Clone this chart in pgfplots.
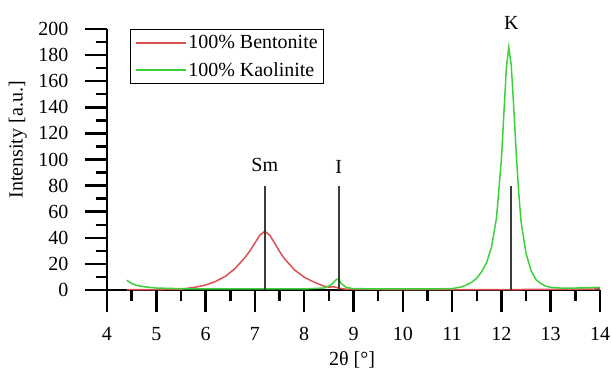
\documentclass[border=0pt]{standalone}
\usepackage{pgfplots}
\pgfplotsset{compat=1.18}
\usepackage{fontspec}
\setmainfont{Liberation Serif}
\definecolor{bred}{RGB}{222,80,80}
\definecolor{kgreen}{RGB}{60,210,60}
\definecolor{vline}{RGB}{60,60,60}
\newcommand{\fs}{\fontsize{20}{23}\selectfont}
\begin{document}
\begin{tikzpicture}
\useasboundingbox (-107pt,-79pt) rectangle (505pt,290pt);
\begin{axis}[
  at={(0pt,0pt)}, anchor=south west,
  scale only axis, width=493pt, height=261pt,
  xmin=4, xmax=14, ymin=0, ymax=200,
  axis lines=left,
  axis line style={-, line width=2.5pt, black},
  xtick={4,5,...,14}, ytick={0,20,...,200},
  minor x tick num=1, minor y tick num=1,
  tick align=outside,
  major tick length=22pt, minor tick length=11pt,
  tick style={black, line width=2.5pt},
  /pgf/number format/assume math mode=true,
  tick label style={font=\fs},
  xticklabel style={yshift=-12pt},
  yticklabel style={xshift=-13pt},
  clip=false,
  unbounded coords=jump,
  xlabel={2θ [°]},
  ylabel={Intensity [a.u.]},
  xlabel style={font=\fs, at={(axis description cs:0.497,-0.266)}, anchor=center},
  ylabel style={font=\fs, at={(axis description cs:-0.181,0.575)}, anchor=center},
  legend style={font=\fs, at={(axis description cs:0.047,1.0)}, anchor=north west,
    draw=black, line width=1.2pt, inner sep=4pt, row sep=8pt,
    legend cell align=left},
  legend image code/.code={\draw[#1, line width=1.5pt] (0pt,0pt) -- (50pt,0pt);},
]
\addplot[bred, line width=1.5pt] coordinates {
(4.4,0.3) (5.0,0.3) (5.5,0.6) (5.8,2.2) (6.0,3.8) (6.2,6.5) (6.4,10.5) (6.6,16.5)
(6.8,25) (6.9,30) (7.0,36) (7.1,42) (7.2,45) (7.3,42) (7.4,36) (7.5,29.5) (7.6,24)
(7.8,15.5) (8.0,9.8) (8.2,6) (8.4,3) (8.5,2.2) (8.6,2.5) (8.7,1.5) (8.8,0.8) (9.0,0.5)
(10,0.3) (11,0.3) (12,0.3) (13,0.5) (14,0.8)};
\addlegendentry{100\% Bentonite}
\addplot[kgreen, line width=1.5pt] coordinates {
(4.4,7.5) (4.5,5) (4.6,3.5) (4.75,2.5) (5.0,1.5) (5.5,1) (6,0.8) (7,0.8) (8,0.8)
(8.4,1.5) (8.55,4) (8.65,8) (8.7,8.5) (8.75,5) (8.85,2) (9.0,1) (10,0.8) (11,1)
(11.2,2.5) (11.3,4) (11.4,6) (11.5,9) (11.6,14) (11.7,21) (11.8,33) (11.9,55)
(12.0,100) (12.05,135) (12.1,170) (12.15,186) (12.2,172) (12.25,140) (12.3,105)
(12.35,75) (12.4,52) (12.5,28) (12.6,15) (12.7,8) (12.8,5) (12.9,3) (13.0,2)
(13.2,1.5) (13.5,1.5) (14,2)};
\addlegendentry{100\% Kaolinite}
\addplot[vline, line width=2pt, forget plot] coordinates {(7.2,0) (7.2,80)};
\addplot[vline, line width=2pt, forget plot] coordinates {(8.7,0) (8.7,80)};
\addplot[vline, line width=2pt, forget plot] coordinates {(12.2,0) (12.2,80)};
% tick marks (same geometry as the axis ticks)
\addplot[black, line width=2.5pt, forget plot] coordinates {
(4,0) (4,-16.86) (nan,nan) (5,0) (5,-16.86) (nan,nan) (6,0) (6,-16.86) (nan,nan)
(7,0) (7,-16.86) (nan,nan) (8,0) (8,-16.86) (nan,nan) (9,0) (9,-16.86) (nan,nan)
(10,0) (10,-16.86) (nan,nan) (11,0) (11,-16.86) (nan,nan) (12,0) (12,-16.86) (nan,nan)
(13,0) (13,-16.86) (nan,nan) (14,0) (14,-16.86)};
\addplot[black, line width=2.5pt, forget plot] coordinates {
(4.5,0) (4.5,-8.43) (nan,nan) (5.5,0) (5.5,-8.43) (nan,nan) (6.5,0) (6.5,-8.43) (nan,nan)
(7.5,0) (7.5,-8.43) (nan,nan) (8.5,0) (8.5,-8.43) (nan,nan) (9.5,0) (9.5,-8.43) (nan,nan)
(10.5,0) (10.5,-8.43) (nan,nan) (11.5,0) (11.5,-8.43) (nan,nan) (12.5,0) (12.5,-8.43) (nan,nan)
(13.5,0) (13.5,-8.43)};
\addplot[black, line width=2.5pt, forget plot] coordinates {
(4,0) (3.5538,0) (nan,nan) (4,20) (3.5538,20) (nan,nan) (4,40) (3.5538,40) (nan,nan)
(4,60) (3.5538,60) (nan,nan) (4,80) (3.5538,80) (nan,nan) (4,100) (3.5538,100) (nan,nan)
(4,120) (3.5538,120) (nan,nan) (4,140) (3.5538,140) (nan,nan) (4,160) (3.5538,160) (nan,nan)
(4,180) (3.5538,180) (nan,nan) (4,200) (3.5538,200)};
\addplot[black, line width=2.5pt, forget plot] coordinates {
(4,10) (3.7769,10) (nan,nan) (4,30) (3.7769,30) (nan,nan) (4,50) (3.7769,50) (nan,nan)
(4,70) (3.7769,70) (nan,nan) (4,90) (3.7769,90) (nan,nan) (4,110) (3.7769,110) (nan,nan)
(4,130) (3.7769,130) (nan,nan) (4,150) (3.7769,150) (nan,nan) (4,170) (3.7769,170) (nan,nan)
(4,190) (3.7769,190)};
\node[font=\fs] at (axis cs:7.2,96) {Sm};
\node[font=\fs] at (axis cs:8.7,94) {I};
\node[font=\fs] at (axis cs:12.2,205) {K};
\end{axis}
\end{tikzpicture}
\end{document}
